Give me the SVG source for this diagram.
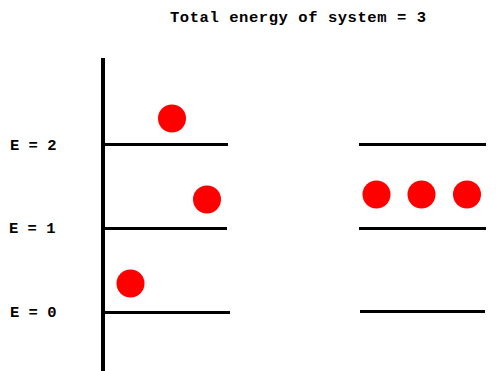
<svg xmlns="http://www.w3.org/2000/svg" width="502" height="371" viewBox="0 0 502 371">
<style>
text{font-family:"Liberation Mono","Courier New",monospace;font-weight:bold;font-size:15.5px;fill:#000}
.lvl{stroke:#000;stroke-width:3;fill:none}
.ax{stroke:#000;stroke-width:4;fill:none}
.p{fill:#ff0000}
</style>
<rect width="502" height="371" fill="#fff"/>
<text id="title" x="170" y="22" textLength="256">Total energy of system = 3</text>
<g id="labels">
<text x="10" y="150">E = 2</text>
<text x="9" y="233">E = 1</text>
<text x="10" y="317">E = 0</text>
</g>
<g id="connectors">
<line class="ax" x1="103" y1="58" x2="103" y2="371"/>
<line class="lvl" x1="105" y1="144.5" x2="228" y2="144.5"/>
<line class="lvl" x1="105" y1="228.5" x2="227" y2="228.5"/>
<line class="lvl" x1="105" y1="312.5" x2="230" y2="312.5"/>
<line class="lvl" x1="359" y1="144.5" x2="486" y2="144.5"/>
<line class="lvl" x1="359" y1="228.5" x2="486" y2="228.5"/>
<line class="lvl" x1="360" y1="311.5" x2="485" y2="311.5"/>
</g>
<g id="left-particles">
<circle class="p" cx="172" cy="118.5" r="14"/>
<circle class="p" cx="207" cy="199.5" r="14"/>
<circle class="p" cx="130.5" cy="283.5" r="14"/>
</g>
<g id="right-particles">
<circle class="p" cx="376.5" cy="194.5" r="14"/>
<circle class="p" cx="421.5" cy="194.5" r="14"/>
<circle class="p" cx="467" cy="194.5" r="14"/>
</g>
</svg>
